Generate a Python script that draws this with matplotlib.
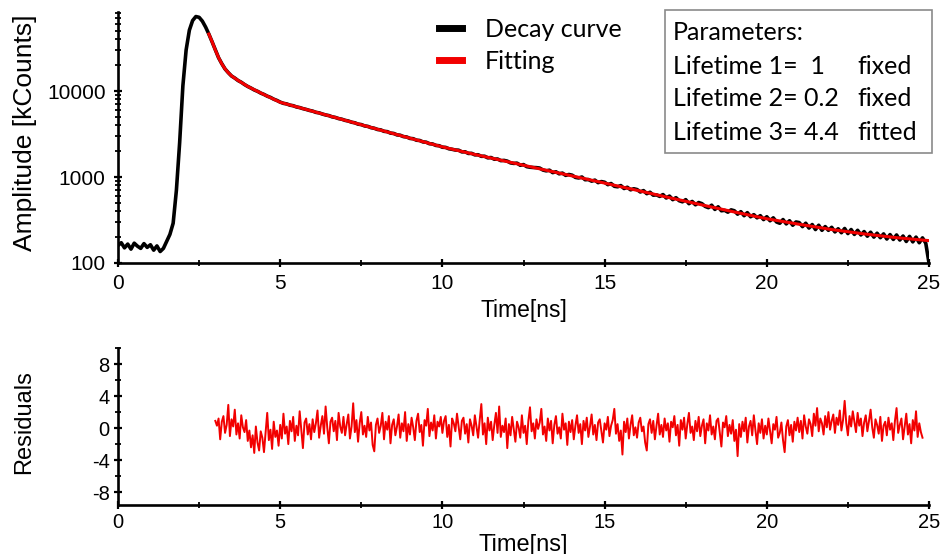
import numpy as np
import matplotlib
matplotlib.use("Agg")
import matplotlib.pyplot as plt
from matplotlib.ticker import LogLocator, FixedLocator, MultipleLocator, FuncFormatter, NullFormatter
from matplotlib.lines import Line2D
from matplotlib.patches import Rectangle

# ---------------- data ----------------
decay_start, decay_step = 0.0, 0.1
decay_counts = [
    160, 172, 150, 166, 145, 170, 157, 148, 168, 152,
    163, 141, 158, 136, 148, 178, 215, 290, 700, 2500,
    11500, 30000, 51000, 66000, 73500, 72000, 65000, 55500,
    46000, 37400, 30100, 24400, 20800, 18050, 16350, 14950, 14150, 13250, 12650, 11900,
    11300, 10820, 10300, 9930, 9460, 9130, 8720, 8430, 8040, 7770,
    7430, 7190, 7080, 6850, 6750, 6530, 6420, 6240, 6110, 5950,
    5840, 5650, 5570, 5400, 5270, 5180, 5010, 4930, 4780, 4700,
    4560, 4480, 4340, 4270, 4120, 4070, 3930, 3880, 3750, 3690,
    3570, 3530, 3400, 3370, 3240, 3210, 3090, 3060, 2950, 2920,
    2810, 2790, 2680, 2660, 2560, 2540, 2440, 2420, 2330, 2310,
    2220, 2210, 2130, 2100, 2060, 2050, 1960, 1965, 1880, 1885,
    1810, 1815, 1740, 1745, 1670, 1685, 1610, 1620, 1550, 1560,
    1530, 1460, 1440, 1450, 1370, 1395, 1320, 1300, 1290, 1285,
    1270, 1205, 1180, 1200, 1125, 1150, 1090, 1110, 1045, 1070,
    1050, 990, 975, 1000, 930, 935, 895, 920, 860, 885,
    870, 815, 840, 780, 770, 795, 735, 760, 710, 730,
    715, 670, 695, 640, 665, 615, 620, 595, 625, 570,
    600, 545, 575, 530, 515, 545, 490, 520, 475, 505,
    490, 455, 440, 470, 420, 450, 405, 410, 390, 415,
    405, 370, 395, 355, 385, 345, 365, 335, 355, 320,
    345, 310, 335, 300, 290, 320, 285, 310, 275, 300,
    295, 265, 290, 255, 280, 245, 275, 240, 265, 240,
    260, 230, 250, 225, 252, 220, 245, 215, 240, 212,
    232, 205, 228, 200, 222, 197, 218, 190, 214, 188,
    212, 185, 206, 178, 204, 176, 200, 172, 196, 170,
    100,
]

fit_time = [2.8, 2.9, 3.0, 3.1, 3.2, 3.3, 3.4, 3.5, 3.6, 3.7, 3.8, 3.9, 4.0, 4.5,
            5, 6, 7, 8, 9, 10, 11, 12, 13, 14, 15, 16, 17, 18, 19, 20,
            21, 22, 23, 24, 25]
fit_counts = [46000, 37500, 30000, 24500, 20700, 18100, 16300, 15000, 14100, 13300,
              12600, 11950, 11300, 9100,
              7400, 5820, 4570, 3590, 2830, 2240, 1830, 1510, 1245, 1030, 850,
              700, 575, 474, 392, 327, 282, 245, 218, 197, 182]

res_start, res_step = 3.0, 0.05
residuals = [
    0.9, 0.3, 1.2, -1.4, 0.8, 1.5, -0.6, 0.4, 2.9, -1.0, 1.1, 0.2, 2.3, -0.8, 0.6, -1.3, 1.6, 0.1, -0.5, 1.0,
    -1.6, -0.3, -2.4, -0.9, -3.1, 0.2, -1.8, -2.8, -0.4, -1.2, -3.0, -0.6, 1.9, -1.5, -0.2, -2.6, 0.8, -1.1, -0.3, -2.2,
    0.4, -1.3, 1.8, -0.7, 0.2, -2.0, 0.9, -0.4, 1.4, -1.6, 0.3, -0.9, 2.1, -0.2, -2.5, 0.7, 1.2, -0.8, 0.5, -1.4,
    1.1, -0.5, 0.6, 2.2, -1.2, 0.3, 1.5, -0.7, 2.7, 0.1, -1.9, 0.8, 1.3, -0.4, 0.9, -1.5, 1.9, 0.2, -0.6, 1.4,
    -0.9, 0.5, 1.7, -1.3, 0.2, 3.1, -0.5, 1.0, -1.7, 0.6, 2.0, -0.8, 0.3, -1.1, 1.4, -0.3, 0.7, -2.1, -2.9, 0.4,
    1.2, -0.6, 0.3, 1.9, -1.4, 0.8, -0.2, 1.5, -1.9, 0.4, 1.1, -0.9, 0.2, 1.7, -1.2, 0.6, -0.4, 2.0, -1.6, 0.5,
    -0.8, 1.3, 0.1, -1.5, 0.9, 1.8, -0.5, 0.4, -2.2, 1.0, 0.3, 2.4, -1.0, 0.7, -0.3, 1.6, -1.3, 0.8, 0.2, 1.4,
    -0.6, 0.9, 1.5, -1.1, 0.4, -2.3, 1.2, 0.6, -0.4, 1.8, 0.2, -1.4, 0.9, 1.3, -0.7, 0.5, -1.8, 1.1, 0.3, -0.9,
    1.6, 0.2, -1.2, 1.0, 3.0, -0.8, 0.6, -2.0, 1.3, -0.3, 0.8, -1.5, 0.4, 1.9, -0.6, 2.7, -1.1, 0.3, -0.5, 1.2,
    -2.5, 0.5, -0.9, 1.4, -0.2, -1.7, 0.8, 0.1, -1.2, 1.6, -0.6, 0.3, -2.0, 0.9, 2.6, -0.4, 0.6, -1.3, 1.1, -0.1,
    0.7, 2.4, -0.8, 0.2, -1.6, 1.2, -0.3, 0.9, -1.9, 0.4, 1.5, -0.7, 0.1, -1.3, 1.8, -0.2, 0.6, -2.1, 0.8, -0.5,
    1.0, -1.4, 0.3, 1.6, -0.6, 0.5, -2.0, 0.9, -0.3, 1.3, -1.1, 0.2, 1.7, -0.8, 0.4, -1.5, 0.7, 1.1, -0.4, -1.8,
    0.6, -0.2, 1.4, -1.0, 0.3, 1.0, 2.4, -0.7, 0.5, -1.6, -0.3, -3.3, 0.8, -0.5, 1.2, -1.3, 0.4, 1.6, -0.9, 0.1,
    -1.2, 0.7, 1.3, -0.4, 0.2, -1.8, -2.8, 0.5, 1.1, -0.6, 0.9, -1.4, 0.3, 1.8, -0.8, 0.4, -1.1, 1.2, -0.3, 0.6,
    -1.7, 0.8, 0.1, 1.5, -0.9, 0.4, -2.2, 1.0, -0.2, 1.3, -1.3, 0.5, 1.9, -0.6, 0.2, -1.5, 0.9, -0.4, 1.4, -1.0,
    0.3, 1.1, -1.9, 0.6, -0.3, 1.6, -0.8, 0.2, -1.4, 0.9, 1.2, -0.5, -2.3, 0.7, 0.1, 1.5, -1.0, 0.4, -0.7, 1.0,
    -1.6, -0.2, -3.5, 0.5, -1.1, 0.8, -0.4, 1.3, -1.8, 0.2, 0.9, -0.9, 1.6, -0.3, -2.0, 0.6, -0.6, 1.1, -1.3, 0.3,
    -0.8, 1.2, -0.4, -1.9, 0.5, -0.2, 1.4, -1.2, -0.6, 0.7, -1.5, -3.0, 0.2, 1.0, -0.9, 0.4, -1.7, 0.8, -0.3, 1.3,
    -0.5, 0.9, -1.3, 1.6, 0.2, -0.7, 1.1, 0.5, -1.0, 1.8, 0.3, 2.5, -0.4, 1.2, 0.6, -0.8, 1.5, 0.1, 2.0, -0.2,
    0.9, 1.7, -0.6, 1.3, 0.4, 2.2, -0.3, 1.0, 3.4, 0.6, -0.9, 1.5, 0.2, 2.1, 0.8, -0.5, 1.9, 0.3, 1.2, -1.0,
    0.7, 1.6, -0.4, 0.9, 2.3, 0.1, -1.2, 1.1, 0.4, -0.7, 1.4, -1.6, 0.3, 0.8, -0.9, 1.3, -0.2, 0.6, -1.5, 0.9,
    2.5, -0.6, 0.4, 1.2, -1.4, 0.2, 1.8, -0.8, 0.5, -1.9, 1.0, -0.3, 2.1, -1.1, 0.6, -0.5, -1.2,
]

x_ticks = [0, 5, 10, 15, 20, 25]
amp_ticks = [100, 1000, 10000]
res_ticks = [-8, -4, 0, 4, 8]
param_title = "Parameters:"
param_names = ["Lifetime 1=  1", "Lifetime 2= 0.2", "Lifetime 3= 4.4"]
param_status = ["fixed", "fixed", "fitted"]

decay_time = np.round(decay_start + decay_step * np.arange(len(decay_counts)), 3)
res_time = np.round(res_start + res_step * np.arange(len(residuals)), 3)

# ---------------- figure ----------------
W, H = 947, 554
plt.rcParams['font.family'] = ['Liberation Sans', 'DejaVu Sans']
plt.rcParams['axes.unicode_minus'] = False
fig = plt.figure(figsize=(W / 100, H / 100), dpi=100)

def fx(px):
    return px / W

def fy(py):
    return 1 - py / H

ax1 = fig.add_axes([fx(118), fy(263), fx(929) - fx(118), fy(12) - fy(263)])
ax2 = fig.add_axes([fx(118), fy(505), fx(929) - fx(118), fy(348) - fy(505)])

red = '#f20000'

line_decay, = ax1.plot(decay_time, decay_counts, color='black', lw=2.6, zorder=2,
                       solid_joinstyle='round')
line_fit, = ax1.plot(fit_time, fit_counts, color=red, lw=2.2, zorder=3)
ax1.set_yscale('log')
ax1.set_xlim(0, 25)
ax1.set_ylim(100, 83000)

ax2.plot(res_time, residuals, color=red, lw=1.4)
ax2.set_xlim(0, 25)
ax2.set_ylim(-9.6, 10)

for ax in (ax1, ax2):
    for s in ('top', 'right'):
        ax.spines[s].set_visible(False)
    for s in ('left', 'bottom'):
        ax.spines[s].set_linewidth(1.9)
    ax.tick_params(which='major', direction='inout', length=6, width=1.6, pad=3)
    ax.tick_params(which='minor', direction='inout', length=4, width=1.3)
    ax.xaxis.set_major_locator(FixedLocator(x_ticks))
    ax.xaxis.set_minor_locator(MultipleLocator(2.5))

ax1.yaxis.set_major_locator(FixedLocator(amp_ticks))
ax1.yaxis.set_minor_locator(LogLocator(base=10, subs=np.arange(2, 10), numticks=20))
ax1.yaxis.set_major_formatter(FuncFormatter(lambda v, p: f"{int(round(v))}"))
ax1.yaxis.set_minor_formatter(NullFormatter())
ax1.tick_params(axis='both', which='major', labelsize=15)
ax1.tick_params(axis='x', which='major', pad=5)
ax1.tick_params(axis='y', which='major', pad=6)
ax1.set_xlabel("Time[ns]", fontsize=16.5, labelpad=4)
ax1.set_ylabel("Amplitude [kCounts]", fontsize=19)
ax1.yaxis.set_label_coords(-0.1, 0.518)

ax2.yaxis.set_major_locator(FixedLocator(res_ticks))
ax2.yaxis.set_minor_locator(MultipleLocator(2))
narrow = ['Liberation Sans Narrow', 'Liberation Sans', 'DejaVu Sans']
for lab in ax2.get_xticklabels() + ax2.get_yticklabels():
    lab.set_family(narrow)
ax2.tick_params(axis='both', which='major', labelsize=14.5)
ax2.set_xlabel("Time[ns]", fontsize=17, family=narrow, labelpad=1)
ax2.set_ylabel("Residuals", fontsize=17)
ax2.yaxis.set_label_coords(-0.102, 0.529)

# legend
box_font = ['Lato', 'DejaVu Sans']
fs = 18
h1 = Line2D([], [], color=line_decay.get_color(), lw=5)
h2 = Line2D([], [], color=line_fit.get_color(), lw=5)
leg = fig.legend([h1, h2], ["Decay curve", "Fitting"], loc='upper left',
                 bbox_to_anchor=(fx(439), fy(18)), frameon=False,
                 prop={'family': box_font, 'size': fs}, handlelength=0.92,
                 handletextpad=0.92, labelspacing=0.35, borderaxespad=0, borderpad=0)

# parameters box
fig.patches.append(Rectangle((fx(665), fy(153)), fx(932) - fx(665), fy(10) - fy(153),
                             transform=fig.transFigure, fill=False,
                             edgecolor='#8a8a8a', lw=1.2))
fig.text(fx(673), fy(33), param_title, family=box_font, fontsize=fs, va='center')
rows_y = [66, 99, 132]
for yy, n, s in zip(rows_y, param_names, param_status):
    fig.text(fx(673), fy(yy), n, family=box_font, fontsize=fs, va='center')
    fig.text(fx(857), fy(yy), s, family=box_font, fontsize=fs, va='center')

fig.savefig("out.png", dpi=100)
